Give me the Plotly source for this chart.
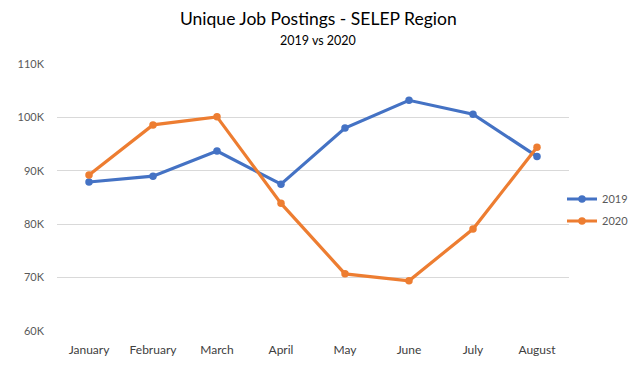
import plotly.graph_objects as go

months = ["January", "February", "March", "April", "May", "June", "July", "August"]
postings_2019 = [87900, 89000, 93700, 87500, 98000, 103200, 100600, 92700]
postings_2020 = [89200, 98600, 100100, 83900, 70700, 69400, 79100, 94400]
y_tick_values = [60000, 70000, 80000, 90000, 100000, 110000]
y_tick_labels = ["60K", "70K", "80K", "90K", "100K", "110K"]

FONT = "Lato, Open Sans, sans-serif"

# the page body has an 8px default margin; compensate so the chart sits at the same page coords
OFF = 8
W, H = 628, 362
ML, MR, MT, MB = 49, 67, 56, 39
plot_w = W - ML - MR
plot_h = H - MT - MB

def px_x(page_x):
    return (page_x - OFF - ML) / plot_w

def px_y(page_y):
    return (H - MB - (page_y - OFF)) / plot_h

fig = go.Figure()
fig.add_trace(go.Scatter(x=months, y=postings_2019, name="2019", mode="lines+markers", legendgroup="a",
                         line=dict(color="#4472C4", width=3.2), marker=dict(size=7.5, color="#4472C4")))
fig.add_trace(go.Scatter(x=months, y=postings_2020, name="2020", mode="lines+markers", legendgroup="b",
                         line=dict(color="#ED7D31", width=3.2), marker=dict(size=7.5, color="#ED7D31")))

fig.update_layout(
    width=W, height=H,
    margin=dict(l=ML, r=MR, t=MT, b=MB, autoexpand=False),
    paper_bgcolor="white", plot_bgcolor="white",
    font=dict(family=FONT, size=11, color="#595959"),
    showlegend=True,
    legend=dict(x=px_x(562), xanchor="left", y=px_y(210), yanchor="middle",
                bgcolor="rgba(0,0,0,0)",
                font=dict(size=11, color="#595959"), itemwidth=30, tracegroupgap=3),
    annotations=[
        dict(text="Unique Job Postings - SELEP Region", x=px_x(318), xref="paper",
             y=px_y(18), yref="paper", yanchor="middle", xanchor="center",
             showarrow=False, font=dict(size=17.5, color="#000000", family=FONT)),
        dict(text="2019 vs 2020", x=px_x(318), xref="paper",
             y=px_y(40), yref="paper", yanchor="middle", xanchor="center",
             showarrow=False, font=dict(size=12.5, color="#000000", family=FONT)),
    ],
)

fig.update_xaxes(type="category", range=[-0.5, 7.5], showgrid=False, zeroline=False,
                 showline=False, ticks="", ticklabelstandoff=10,
                 tickfont=dict(size=12, color="#404040"))
fig.update_yaxes(range=[60000, 110000], tickvals=y_tick_values, ticktext=y_tick_labels,
                 showgrid=True, gridcolor="#D9D9D9", gridwidth=1, zeroline=False,
                 showline=False, ticks="", ticklabelstandoff=12,
                 tickfont=dict(size=11, color="#595959"))

fig.write_html("out.html")
